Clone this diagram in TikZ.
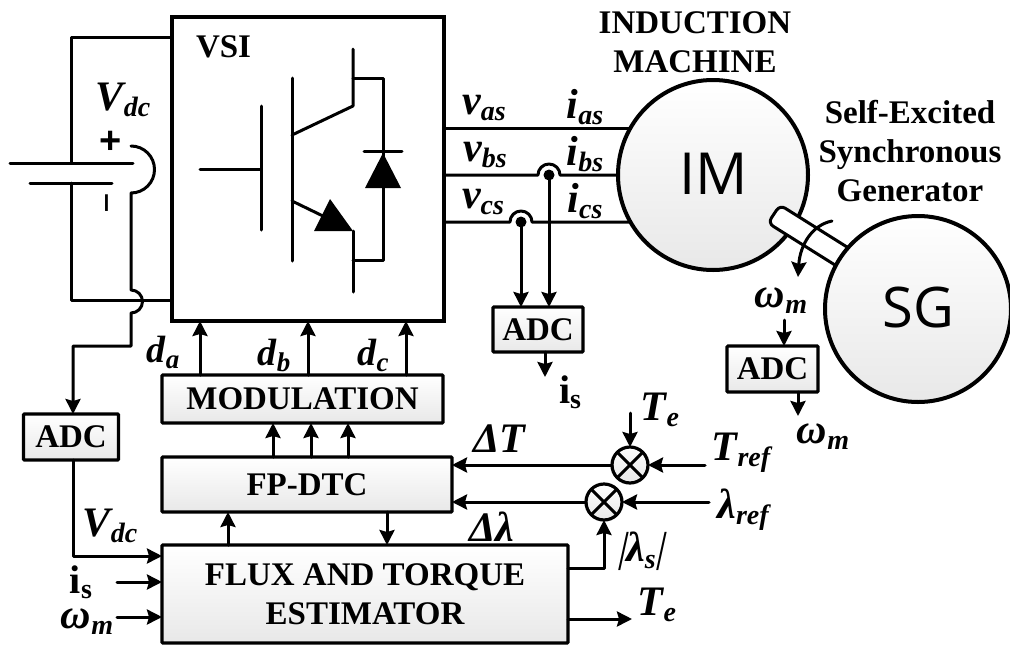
\documentclass[tikz,border=0pt]{standalone}
\usepackage{fontspec}
\setmainfont{Liberation Serif}
\newfontfamily\imfont{Open Sans}
\newfontfamily\plusfont{Liberation Sans}
\newfontfamily\slantbar[FakeSlant=0.22]{Liberation Serif}
\usetikzlibrary{arrows.meta,calc}
\newcommand{\fsz}[1]{\fontsize{#1}{#1}\selectfont}
\newcommand{\symsub}[2]{{\fsz{42}\bfseries\itshape #1\raisebox{-6pt}{\fsz{28}\bfseries\itshape #2}}}
\newcommand{\smsub}[2]{{\fsz{38}\bfseries\itshape #1\raisebox{-6pt}{\fsz{27}\bfseries\itshape #2}}}
\tikzset{
  wire/.style={line width=3pt,line cap=round,line join=round},
  arr/.style={wire,-{Stealth[width=15pt,length=15pt,inset=2pt]}},
  blk/.style={draw,line width=3.2pt,rounded corners=1pt,inner sep=0pt,outer sep=0pt,top color=white,bottom color=black!9,align=center,font=\fsz{33}\bfseries},
  ball/.style={circle,draw,line width=4pt,inner sep=0pt,outer sep=0pt,top color=white,bottom color=black!9},
  summer/.style={circle,draw,line width=3.2pt,inner sep=0pt,outer sep=0pt,minimum size=36pt,top color=white,bottom color=black!9},
  lab/.style={inner sep=0pt,outer sep=0pt,anchor=center},
  head/.style={lab,font=\fontsize{33}{39}\selectfont\bfseries,align=center}
}
\begin{document}
\begin{tikzpicture}[x=1pt,y=-1pt]
\useasboundingbox (0,0) rectangle (1010,646);
% blocks
\node[draw,line width=3.2pt,minimum width=272pt,minimum height=304pt,inner sep=0pt,outer sep=0pt] (vsi) at (308,169) {};
\node[blk,minimum width=281pt,minimum height=48pt] (mod) at (302.5,399) {MODULATION};
\node[blk,minimum width=290pt,minimum height=55pt] (dtc) at (307,484.5) {FP-DTC};
\node[blk,minimum width=406pt,minimum height=98pt] (est) at (365,594) {FLUX AND TORQUE\\[6pt]ESTIMATOR};
\node[blk,minimum width=95pt,minimum height=46pt] (adcv) at (71,437) {ADC};
\node[blk,minimum width=90pt,minimum height=45pt] (adci) at (538,329.5) {ADC};
\node[blk,minimum width=91pt,minimum height=46pt] (adcw) at (772.5,369) {ADC};
% coordinates of the machine
\coordinate (imc) at (713,175);
% phase lines run under the machine outline
\draw[wire] (vsi.east |- 0,128) -- (640,128);
\draw[wire] (vsi.east |- 0,175) -- (538,175) arc[start angle=180,end angle=360,radius=11] -- (640,175);
\draw[wire] (vsi.east |- 0,222) -- (510,222) arc[start angle=180,end angle=360,radius=11] -- (640,222);
% machines
\node[ball,minimum size=190pt] (im) at (imc) {};
\draw[wire,line cap=butt,fill=white] (847,247) [rounded corners=6pt] -- (780,205) -- (768,223) [sharp corners] -- (835,265);
\node[ball,minimum size=186pt] (sg) at (918,309) {};
\node[lab,font=\imfont\fsz{58}] (imt) at (714,174) {IM};
\node[lab,font=\imfont\fsz{56}] (sgt) at (918,307) {SG};
% dc link
\coordinate (ctop) at (71,163);
\coordinate (cbot) at (71,183);
\coordinate (pa) at (10,163);
\coordinate (pb) at (133,163);
\coordinate (pc) at (30,183);
\coordinate (pd) at (112,183);
\draw[wire] (pa) -- (pb);
\draw[wire] (pc) -- (pd);
\draw[wire] (vsi.west |- 0,37) -- (71,37) -- (ctop);
\draw[wire] (cbot) -- (71,300) -- (vsi.west |- 0,300);
\draw[arr] (131,146) arc[start angle=-90,end angle=90,radius=23.5] -- (131,290) arc[start angle=-90,end angle=90,radius=11.5] -- (131,346) -- (73,346) -- (73,0 |- adcv.north);
\node[lab,font=\plusfont\fsz{38}\bfseries] (plus) at (111,142) {+};
\node[lab,font=\plusfont\fsz{36},rotate=90,xscale=1.9] (minus) at (111,203) {-};
\node[lab] (vdc1) at (123,100) {\symsub{V}{dc}};
\node[lab,anchor=west,font=\fsz{33}\bfseries] (vsit) at (196,47) {VSI};
% IGBT
\draw[wire] (200,169) -- (260,169);
\draw[wire] (261,106) -- (261,230);
\draw[wire] (292,78) -- (292,261);
\draw[wire] (292,135) -- (353,106) -- (353,49);
\draw[wire] (353,78) -- (383,78) -- (383,260) -- (353,260);
\draw[wire] (364,151) -- (402,151);
\fill (383,153) -- (401,188) -- (365,188) -- cycle;
\draw[wire] (292,201) -- (325,217);
\fill (330,199) -- (353,231) -- (314,231) -- cycle;
\draw[wire] (353,231) -- (353,292);
% phase dots
\coordinate (dotb) at (549,175);
\coordinate (dotc) at (521,222);
\fill (dotb) circle[radius=5.5];
\fill (dotc) circle[radius=5.5];
\draw[arr] (dotb) -- (dotb |- adci.north);
\draw[arr] (dotc) -- (dotc |- adci.north);
\draw[arr] (545,0 |- adci.south) -- (545,377);
\node[lab] (vas) at (484,108) {\symsub{v}{as}};
\node[lab] (vbs) at (485,155) {\symsub{v}{bs}};
\node[lab] (vcs) at (483,202) {\symsub{v}{cs}};
\node[lab] (ias) at (585,107) {\symsub{i}{as}};
\node[lab] (ibs) at (585,154) {\symsub{i}{bs}};
\node[lab] (ics) at (585,201) {\symsub{i}{cs}};
\node[lab] (is1) at (570,392) {{\fsz{40}\bfseries i\raisebox{-5pt}{\fsz{28}\bfseries s}}};
% modulation outputs
\draw[arr] (200,0 |- mod.north) -- (200,0 |- vsi.south);
\draw[arr] (308,0 |- mod.north) -- (308,0 |- vsi.south);
\draw[arr] (406,0 |- mod.north) -- (406,0 |- vsi.south);
\node[lab] (da) at (163,352) {\smsub{d}{a}};
\node[lab] (db) at (274,355) {\smsub{d}{b}};
\node[lab] (dc) at (373,355) {\smsub{d}{c}};
\draw[arr] (273,0 |- dtc.north) -- (273,0 |- mod.south);
\draw[arr] (311,0 |- dtc.north) -- (311,0 |- mod.south);
\draw[arr] (348,0 |- dtc.north) -- (348,0 |- mod.south);
\draw[arr] (228,0 |- est.north) -- (228,0 |- dtc.south);
\draw[arr] (387,0 |- dtc.south) -- (387,0 |- est.north);
% estimator inputs
\draw[arr] (73,0 |- adcv.south) -- (73,556) -- (est.west |- 0,556);
\coordinate (isin) at (117,582);
\coordinate (wmin) at (117,617);
\draw[arr] (isin) -- (est.west |- isin);
\draw[arr] (wmin) -- (est.west |- wmin);
\node[lab] (vdc2) at (110,526) {\symsub{V}{dc}};
\node[lab] (is2) at (81,580) {{\fsz{40}\bfseries i\raisebox{-5pt}[0pt][0pt]{\fsz{28}\bfseries s}}};
\node[lab] (wm1) at (87,622) {\symsub{ω}{m}};
% summing junctions
\node[summer] (st) at (630,465) {};
\node[summer] (sl) at (604,502) {};
\foreach \n in {st,sl}{
  \draw[wire] (\n.45) -- (\n.225);
  \draw[wire] (\n.135) -- (\n.315);
}
\coordinate (tref) at (705,465);
\coordinate (lref) at (709,502);
\coordinate (tein) at (630,413);
\draw[arr] (st.west) -- (dtc.east |- st.west);
\draw[arr] (sl.west) -- (dtc.east |- sl.west);
\draw[arr] (tref) -- (st.east);
\draw[arr] (lref) -- (sl.east);
\draw[arr] (tein) -- (st.north);
\draw[arr] (est.east |- 0,568) -- (sl.south |- 0,568) -- (sl.south);
\draw[arr] (est.east |- 0,619) -- (632,619);
\node[lab] (dT) at (499,439) {{\fsz{42}\bfseries\itshape ΔT}};
\node[lab] (dl) at (492,527) {{\fsz{42}\bfseries\itshape Δλ}};
\node[lab] (te1) at (660,410) {\symsub{T}{e}};
\node[lab] (te2) at (657,605) {\symsub{T}{e}};
\node[lab] (trf) at (741,453) {\symsub{T}{ref}};
\node[lab] (lrf) at (743,510) {\symsub{λ}{ref}};
\node[lab] (ls) at (641,551) {{\fsz{42}{\slantbar |}{\bfseries\itshape λ\raisebox{-7pt}{\fsz{28}\bfseries s}}{\slantbar |}}};
% speed
\coordinate (rs) at (832,221);
\coordinate (re) at (798,277);
\draw[arr] (rs) .. controls (812,225) and (800,245) .. (re);
\node[lab] (wm2) at (781,301) {\symsub{ω}{m}};
\coordinate (wtop) at (784,320);
\draw[arr] (wtop) -- (wtop |- adcw.north);
\draw[arr] (798,0 |- adcw.south) -- (798,416);
\node[lab] (wm3) at (823,437) {\symsub{ω}{m}};
% headings
\node[head] (hd1) at (695,42) {INDUCTION\\MACHINE};
\node[head] (hd2) at (910,151) {Self-Excited\\Synchronous\\Generator};
\end{tikzpicture}
\end{document}
